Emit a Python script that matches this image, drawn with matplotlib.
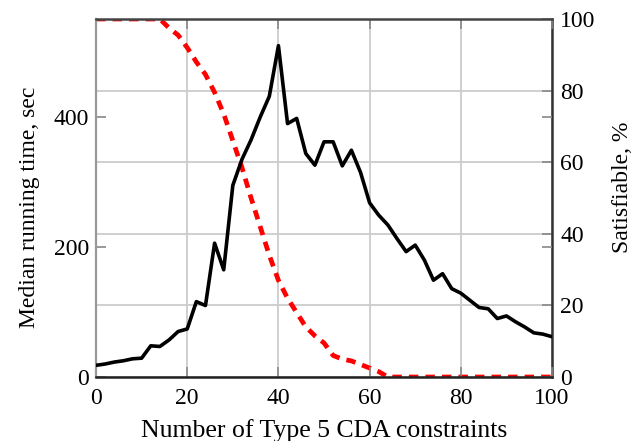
import matplotlib
matplotlib.use("Agg")
import matplotlib.pyplot as plt
import numpy as np

plt.rcParams['font.family'] = ['Liberation Serif', 'DejaVu Serif']
plt.rcParams['font.size'] = 17

# number of type 5 CDA constraints
n_constraints = np.arange(0, 101, 2)

# median running time (sec), left axis
median_time = [18, 20, 23, 25, 28, 29, 48, 47, 57, 70,
               74, 116, 110, 206, 165, 295, 335, 365, 400, 432,
               510, 390, 398, 344, 326, 362, 362, 325, 349, 315,
               268, 249, 234, 213, 193, 203, 180, 149, 159, 136,
               129, 118, 107, 105, 90, 94, 85, 77, 68, 66, 62]

# satisfiable instances (%), right axis
satisfiable = [100, 100, 100, 100, 100, 100, 100, 100, 97.5, 95.5,
               92, 88, 84.5, 79.5, 73.5, 66, 58.5, 50, 42, 34,
               27, 22, 18, 14, 11.5, 9.5, 6, 5, 4.5, 3.5,
               2.5, 1.5, 0, 0, 0, 0, 0, 0, 0, 0,
               0, 0, 0, 0, 0, 0, 0, 0, 0, 0, 0]

fig = plt.figure(figsize=(6.33, 4.41), dpi=100)
ax2 = fig.add_axes([0.1517, 0.1451, 0.7204, 0.8118])
ax1 = fig.add_axes([0.1517, 0.1451, 0.7204, 0.8118], sharex=ax2)
ax1.patch.set_visible(False)

# right axis: satisfiable %, carries the grid
ax2.plot(n_constraints, satisfiable, color='#ff0000', lw=3.4,
         dashes=(2.0, 1.5), zorder=3)
ax2.set_ylim(0, 100)
ax2.set_yticks([0, 20, 40, 60, 80, 100])
ax2.yaxis.tick_right()
ax2.yaxis.set_label_position('right')
ax2.set_ylabel('Satisfiable, %', labelpad=12, y=0.53)
ax2.grid(True, color='#cccccc', lw=1.3)
ax2.set_axisbelow(True)
ax2.tick_params(axis='y', direction='in', length=7, width=1.2,
                color='#888888', pad=6)
ax2.tick_params(axis='x', bottom=False, labelbottom=False)
for s in ['left', 'top', 'bottom']:
    ax2.spines[s].set_visible(False)
ax2.spines['right'].set_color('#333333')
ax2.spines['right'].set_linewidth(1.8)

# left axis: median running time
ax1.plot(n_constraints, median_time, color='black', lw=2.6, zorder=3)
ax1.set_xlim(0, 100)
ax1.set_ylim(0, 551)
ax1.set_yticks([0, 200, 400])
ax1.set_xticks([0, 20, 40, 60, 80, 100])
ax1.set_xlabel('Number of Type 5 CDA constraints', fontsize=18.5, labelpad=7)
ax1.set_ylabel('Median running time, sec', labelpad=10, y=0.475)
ax1.tick_params(axis='y', direction='in', left=True, right=True,
                length=7, width=1.2, color='#888888', pad=5)
ax1.tick_params(axis='x', direction='in', top=True, bottom=True,
                length=7, width=1.2, color='#888888', pad=8)
ax1.spines['right'].set_visible(False)
ax1.spines['left'].set_color('#999999')
ax1.spines['left'].set_linewidth(1.6)
ax1.spines['top'].set_color('#444444')
ax1.spines['top'].set_linewidth(1.8)
ax1.spines['bottom'].set_color('#222222')
ax1.spines['bottom'].set_linewidth(1.8)

plt.savefig('out.png', dpi=100)
